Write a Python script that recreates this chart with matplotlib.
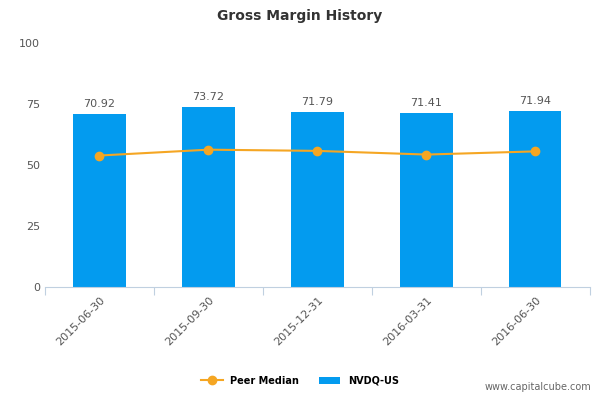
import matplotlib
matplotlib.use("Agg")
import matplotlib.pyplot as plt
import numpy as np

categories = ["2015-06-30", "2015-09-30", "2015-12-31", "2016-03-31", "2016-06-30"]
nvdq = [70.92, 73.72, 71.79, 71.41, 71.94]
peer = [53.8, 56.2, 55.7, 54.2, 55.5]
yticks = [0, 25, 50, 75, 100]

fig = plt.figure(figsize=(6, 4), dpi=100)
ax = fig.add_axes([0.075, 0.283, 0.908, 0.61])
x = np.arange(len(categories))
ax.bar(x, nvdq, width=0.48, color="#039BEF", label="NVDQ-US", zorder=2)
ax.plot(x, peer, color="#F5A623", marker="o", markersize=6, lw=1.5, label="Peer Median", zorder=3)
for xi, v in zip(x, nvdq):
    ax.text(xi, v + 2, f"{v:.2f}", ha="center", va="bottom", fontsize=8, color="#555555")
ax.set_xlim(-0.5, len(categories) - 0.5)
ax.set_ylim(0, 100)
ax.set_yticks(yticks)
ax.tick_params(axis="y", length=0, labelsize=8, colors="#555555")
ax.set_xticks(np.arange(-0.5, len(categories)), minor=False)
ax.set_xticklabels([])
ax.set_xticks(x, minor=True)
ax.set_xticklabels(categories, minor=True, rotation=45, ha="right", rotation_mode="anchor", fontsize=8, color="#555555")
ax.tick_params(axis="x", which="major", length=6, color="#C0D0E0")
ax.tick_params(axis="x", which="minor", length=0, pad=6)
for s in ["top", "right", "left"]:
    ax.spines[s].set_visible(False)
ax.spines["bottom"].set_color("#C0D0E0")
fig.text(0.5, 0.96, "Gross Margin History", ha="center", va="center", fontsize=10, fontweight="bold", color="#333333")
fig.legend(loc="center", bbox_to_anchor=(0.5, 0.048), ncol=2, frameon=False, prop={"size": 7, "weight": "bold"}, handlelength=2.2)
fig.text(0.985, 0.02, "www.capitalcube.com", ha="right", va="bottom", fontsize=7, color="#666666")
fig.savefig("out.png")
